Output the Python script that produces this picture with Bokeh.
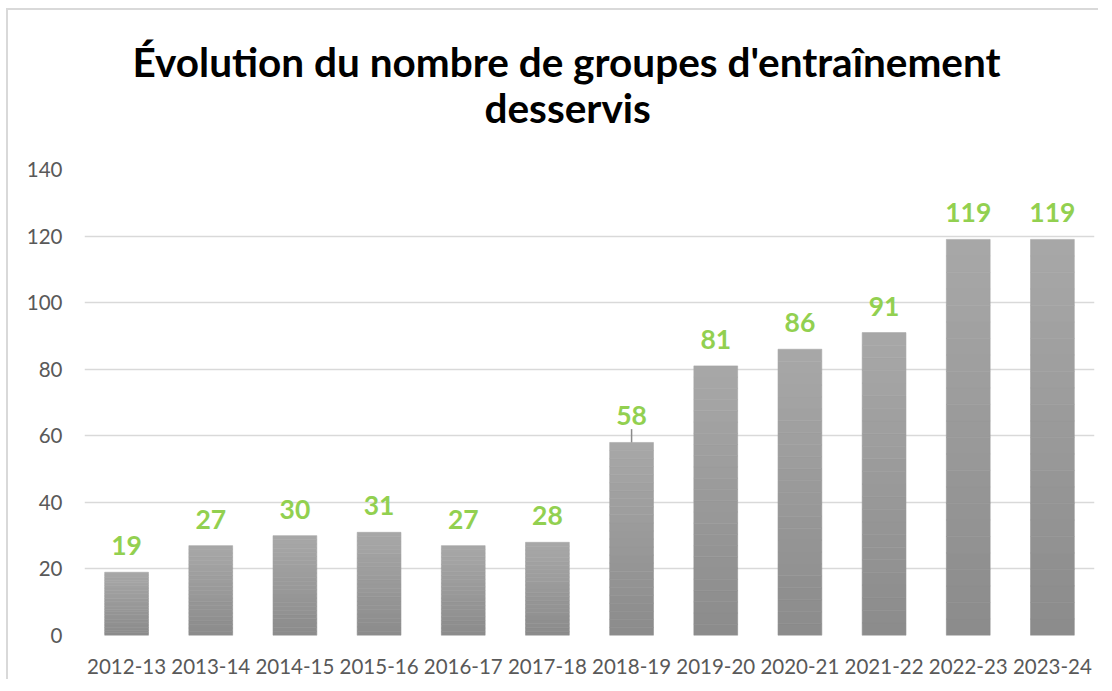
from bokeh.plotting import figure
from bokeh.models import ColumnDataSource, Title, FixedTicker
from bokeh.core.properties import value
from bokeh.embed import file_html
from bokeh.resources import INLINE

seasons = ["2012-13", "2013-14", "2014-15", "2015-16", "2016-17", "2017-18",
           "2018-19", "2019-20", "2020-21", "2021-22", "2022-23", "2023-24"]
groups = [19, 27, 30, 31, 27, 28, 58, 81, 86, 91, 119, 119]
y_ticks = [0, 20, 40, 60, 80, 100, 120, 140]
tick_season = ["2018-19"]
tick_top = [62]

title_lines = ["Évolution du nombre de groupes d'entraînement", "desservis"]

FONT = "Lato"

p = figure(x_range=seasons, y_range=(0, 140),
           frame_width=1010, frame_height=466,
           output_backend="svg", toolbar_location=None, tools="",
           min_border_left=76, min_border_right=4, min_border_bottom=44,
           min_border_top=159,
           background_fill_color="white", border_fill_color="white")
p.outline_line_color = None
p.styles = {"border-left": "2px solid #d9d9d9", "border-top": "2px solid #d9d9d9",
            "margin-left": "6px", "margin-top": "8px"}

# spacer between frame and title lines, then the two title lines
spacer = Title(text=" ", text_font_size="1px", standoff=35)
t2 = Title(text=title_lines[1], align="left", text_font=FONT, text_font_size="40.5px",
           text_font_style="bold", text_color="#000000", standoff=0, offset=400)
t1 = Title(text=title_lines[0], align="left", text_font=FONT, text_font_size="40.5px",
           text_font_style="bold", text_color="#000000", standoff=-11, offset=48)
p.add_layout(spacer, "above")
p.add_layout(t2, "above")
p.add_layout(t1, "above")

# gradient bars made of stacked bands (light at top, darker at bottom)
n_bands = 24
top_c = (0xa8, 0xa8, 0xa8)
bot_c = (0x8b, 0x8b, 0x8b)
for k in range(n_bands):
    f0 = k / n_bands
    f1 = (k + 1) / n_bands
    tt = (k + 0.5) / n_bands
    col = "#%02x%02x%02x" % tuple(int(round(b + (a - b) * tt)) for a, b in zip(top_c, bot_c))
    src = ColumnDataSource(dict(x=seasons,
                                b=[v * f0 for v in groups],
                                t=[v * f1 for v in groups]))
    p.vbar(x="x", bottom="b", top="t", width=0.52, source=src,
           fill_color=col, line_color=col, line_width=0.6)

p.segment(x0=tick_season, y0=[groups[seasons.index(s)] for s in tick_season],
          x1=tick_season, y1=tick_top, line_color="#8a8a8a", line_width=1.5)

lab = ColumnDataSource(dict(x=seasons, y=groups, txt=[str(v) for v in groups]))
p.text(x="x", y="y", text="txt", source=lab, text_align="center",
       text_baseline="bottom", y_offset=-17, text_font=value(FONT),
       text_font_size="26.5px", text_font_style="bold", text_color="#92d050")

p.yaxis.ticker = FixedTicker(ticks=y_ticks)
for ax in (p.xaxis, p.yaxis):
    ax.axis_line_color = None
    ax.major_tick_line_color = None
    ax.minor_tick_line_color = None
    ax.major_label_text_font = FONT
    ax.major_label_text_font_size = "20.5px"
    ax.major_label_text_color = "#595959"
p.yaxis.major_label_standoff = 16
p.xaxis.major_label_standoff = 17
p.xgrid.grid_line_color = None
p.ygrid.grid_line_color = "#d9d9d9"
p.ygrid.grid_line_width = 1.5
p.x_range.range_padding = 0

open("out.html", "w").write(file_html(p, INLINE))
